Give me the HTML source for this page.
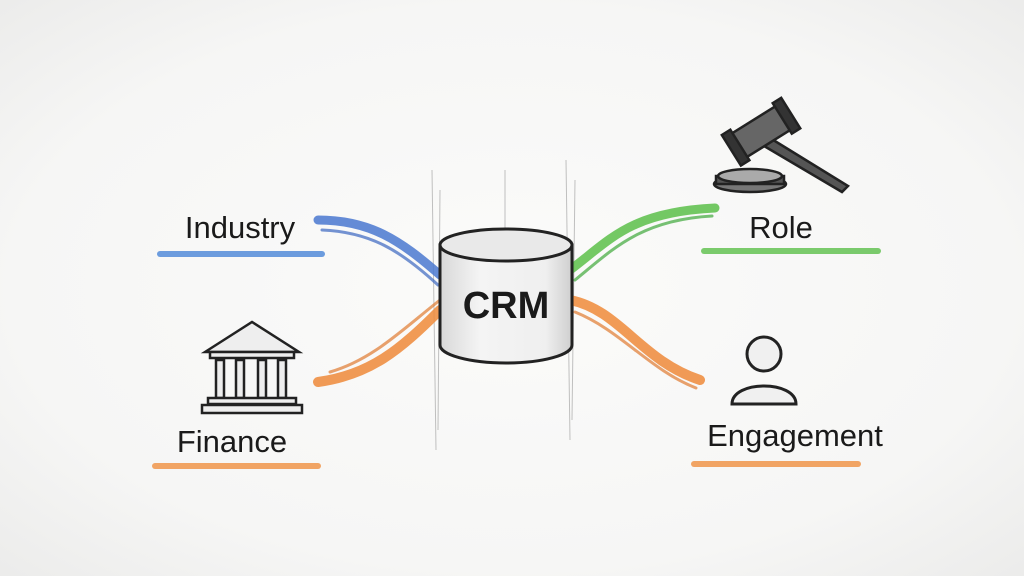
<!DOCTYPE html>
<html><head><meta charset="utf-8"><style>
html,body{margin:0;padding:0;width:1024px;height:576px;overflow:hidden;background:#f6f6f5;}
svg{display:block}
text{font-family:"Liberation Sans",sans-serif;fill:#1a1a1a;}
</style></head><body>
<svg width="1024" height="576" viewBox="0 0 1024 576">
<defs>
<radialGradient id="bg" cx="50%" cy="50%" r="70%">
<stop offset="0" stop-color="#fbfbfa"/><stop offset="0.7" stop-color="#f6f6f5"/><stop offset="1" stop-color="#ececeb"/>
</radialGradient>
<linearGradient id="cyl" x1="0" x2="1">
<stop offset="0" stop-color="#d8d8d8"/><stop offset="0.3" stop-color="#f4f4f4"/><stop offset="0.8" stop-color="#efefef"/><stop offset="1" stop-color="#cfcfcf"/>
</linearGradient>
</defs>
<rect width="1024" height="576" fill="url(#bg)"/>
<!-- sketch lines -->
<g stroke="#999" stroke-width="1" fill="none" opacity="0.6">
<line x1="432" y1="170" x2="436" y2="450"/><line x1="440" y1="190" x2="438" y2="430"/>
<line x1="566" y1="160" x2="570" y2="440"/><line x1="575" y1="180" x2="572" y2="420"/>
<line x1="505" y1="170" x2="505" y2="230"/>
</g>
<!-- connectors -->
<g fill="none" stroke-linecap="round">
<path d="M318 220 C370 220,400 240,440 275" stroke="#4a78d0" stroke-width="9" opacity="0.85"/>
<path d="M322 230 C370 232,400 250,438 285" stroke="#3a66c0" stroke-width="3" opacity="0.7"/>
<path d="M570 270 C610 240,630 212,715 208" stroke="#5cbf4a" stroke-width="9" opacity="0.85"/>
<path d="M575 280 C612 250,640 220,712 216" stroke="#3fa83a" stroke-width="3" opacity="0.7"/>
<path d="M318 382 C370 375,400 350,440 310" stroke="#ef8a3a" stroke-width="10" opacity="0.85"/>
<path d="M330 372 C372 360,402 330,440 300" stroke="#e07a30" stroke-width="3" opacity="0.7"/>
<path d="M570 300 C620 310,640 360,700 380" stroke="#ef8a3a" stroke-width="10" opacity="0.85"/>
<path d="M575 312 C620 330,650 370,696 388" stroke="#e07a30" stroke-width="3" opacity="0.7"/>
</g>
<!-- cylinder -->
<path d="M440 245 L440 345 A66 18 0 0 0 572 345 L572 245 Z" fill="url(#cyl)" stroke="#222" stroke-width="3"/>
<ellipse cx="506" cy="245" rx="66" ry="16" fill="#e9e9e9" stroke="#222" stroke-width="3"/>
<text x="506" y="318" font-size="38" text-anchor="middle" font-weight="bold">CRM</text>
<!-- labels -->
<text x="240" y="238" font-size="31" text-anchor="middle">Industry</text>
<path d="M160 254 L322 254" stroke="#4a86d8" stroke-width="6" stroke-linecap="round" opacity="0.8"/>
<text x="232" y="452" font-size="31" text-anchor="middle">Finance</text>
<path d="M155 466 L318 466" stroke="#f09040" stroke-width="6" stroke-linecap="round" opacity="0.8"/>
<text x="781" y="238" font-size="31" text-anchor="middle">Role</text>
<path d="M704 251 L878 251" stroke="#5cc04a" stroke-width="6" stroke-linecap="round" opacity="0.8"/>
<text x="795" y="446" font-size="31" text-anchor="middle">Engagement</text>
<path d="M694 464 L858 464" stroke="#f09040" stroke-width="6" stroke-linecap="round" opacity="0.8"/>
<!-- bank icon -->
<g stroke="#222" stroke-width="2.5" fill="#eee">
<path d="M205 352 L252 322 L299 352 Z"/>
<rect x="210" y="352" width="84" height="6"/>
<rect x="216" y="360" width="8" height="38"/><rect x="236" y="360" width="8" height="38"/><rect x="258" y="360" width="8" height="38"/><rect x="278" y="360" width="8" height="38"/>
<rect x="208" y="398" width="88" height="6"/><rect x="202" y="405" width="100" height="8"/>
</g>
<!-- gavel -->
<g stroke="#222" stroke-width="2.5">
<ellipse cx="750" cy="184" rx="36" ry="8" fill="#777"/>
<rect x="716" y="176" width="68" height="8" fill="#555"/>
<ellipse cx="750" cy="176" rx="32" ry="7" fill="#aaa"/>
<path d="M770 138 L848 186 L842 192 L764 146 Z" fill="#555"/>
<g transform="rotate(-32 760 130)"><rect x="730" y="118" width="60" height="28" rx="4" fill="#666"/><rect x="725" y="114" width="10" height="36" fill="#333"/><rect x="785" y="114" width="10" height="36" fill="#333"/></g>
</g>
<!-- person -->
<g stroke="#222" stroke-width="3" fill="#f0f0f0">
<circle cx="764" cy="354" r="17"/>
<path d="M732 404 C732 380,796 380,796 404 Z"/>
</g>
</svg>
</body></html>
